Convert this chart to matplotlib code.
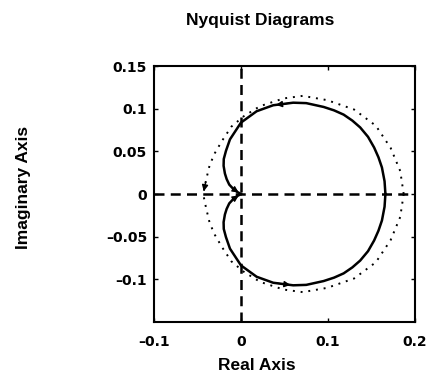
import matplotlib
matplotlib.use('Agg')
import matplotlib.pyplot as plt

# Krzywa Nyquista (ciągła) - górna połówka, od prawej do lewej
re_ciagla = [0.166, 0.165, 0.162, 0.158, 0.153, 0.146, 0.137, 0.128, 0.118, 0.107,
             0.095, 0.075, 0.060, 0.037, 0.018, 0.000, -0.0127, -0.0173, -0.0198,
             -0.0200, -0.0185, -0.0165, -0.0135, -0.0089, -0.0045, 0.0]
im_ciagla = [0.0, 0.015, 0.031, 0.043, 0.0545, 0.067, 0.078, 0.086, 0.093, 0.098,
             0.102, 0.1065, 0.107, 0.104, 0.097, 0.0837, 0.064, 0.0505, 0.041,
             0.033, 0.024, 0.0175, 0.011, 0.006, 0.0025, 0.0]

# Krzywa kropkowana - górna połówka
re_kropki = [0.187, 0.183, 0.172, 0.155, 0.130, 0.099, 0.071, 0.049, 0.022, 0.003,
             -0.011, -0.022, -0.030, -0.036, -0.040, -0.0435]
im_kropki = [0.0, 0.027, 0.054, 0.080, 0.099, 0.110, 0.115, 0.112, 0.103, 0.091,
             0.079, 0.062, 0.048, 0.034, 0.017, 0.0]

x_ticks = [-0.1, 0, 0.1, 0.2]
x_labels = ['\u20130.1', '0', '0.1', '0.2']
y_ticks = [-0.1, -0.05, 0, 0.05, 0.1, 0.15]
y_labels = ['\u20130.1', '\u20130.05', '0', '0.05', '0.1', '0.15']

plt.rcParams['font.family'] = ['Liberation Sans', 'DejaVu Sans']
plt.rcParams['font.weight'] = 'bold'

W, H = 429, 383
fig = plt.figure(figsize=(W / 100, H / 100), dpi=100)
ax = fig.add_axes([154 / W, 1 - 322 / H, (415 - 154) / W, (322 - 66) / H])

# osie pomocnicze
ax.axhline(0, color='black', lw=1.8, dashes=(4, 2.5))
ax.axvline(0, color='black', lw=1.8, dashes=(4, 2.5))

ax.plot(re_kropki, im_kropki, color='black', lw=1.4, linestyle=(0, (1, 3)))
ax.plot(re_kropki, [-v for v in im_kropki], color='black', lw=1.4, linestyle=(0, (1, 3)))
ax.plot(re_ciagla, im_ciagla, color='black', lw=1.8)
ax.plot(re_ciagla, [-v for v in im_ciagla], color='black', lw=1.8)

# strzałki kierunku
strz = dict(arrowstyle='-|>', color='black', lw=1.0, mutation_scale=9)
i = 12
ax.annotate('', xy=(re_ciagla[i + 1], im_ciagla[i + 1]), xytext=(re_ciagla[i], im_ciagla[i]), arrowprops=strz)
ax.annotate('', xy=(re_ciagla[i], -im_ciagla[i]), xytext=(re_ciagla[i + 1], -im_ciagla[i + 1]), arrowprops=strz)
ax.annotate('', xy=(re_ciagla[-1], im_ciagla[-1]), xytext=(re_ciagla[-3], im_ciagla[-3]), arrowprops=strz)
ax.annotate('', xy=(re_ciagla[-1], -im_ciagla[-1]), xytext=(re_ciagla[-3], -im_ciagla[-3]), arrowprops=strz)
ax.annotate('', xy=(re_kropki[-1], im_kropki[-1]), xytext=(re_kropki[-2], im_kropki[-2]), arrowprops=strz)

ax.set_xlim(-0.1, 0.2)
ax.set_ylim(-0.15, 0.15)
ax.set_xticks(x_ticks)
ax.set_xticklabels(x_labels)
ax.set_yticks(y_ticks)
ax.set_yticklabels(y_labels)
ax.tick_params(direction='in', length=3, width=1, top=True, right=True)
ax.tick_params(axis='x', pad=9)
ax.tick_params(axis='y', pad=5)
for lab in ax.get_xticklabels() + ax.get_yticklabels():
    lab.set_fontfamily('DejaVu Sans')
    lab.set_fontsize(10)
    lab.set_fontweight('bold')
for s in ax.spines.values():
    s.set_linewidth(1.5)

# podpisy - przesunięte względem środka osi jak w oryginale
fig.text(260 / W, 1 - 20 / H, 'Nyquist Diagrams', fontsize=12.5, fontweight='bold', ha='center', va='center')
fig.text(257 / W, 1 - 365 / H, 'Real Axis', fontsize=12.5, fontweight='bold', ha='center', va='center')
fig.text(24 / W, 1 - 187 / H, 'Imaginary Axis', fontsize=12.5, fontweight='bold', ha='center', va='center',
         rotation=90)

fig.savefig('out.png', dpi=100)
